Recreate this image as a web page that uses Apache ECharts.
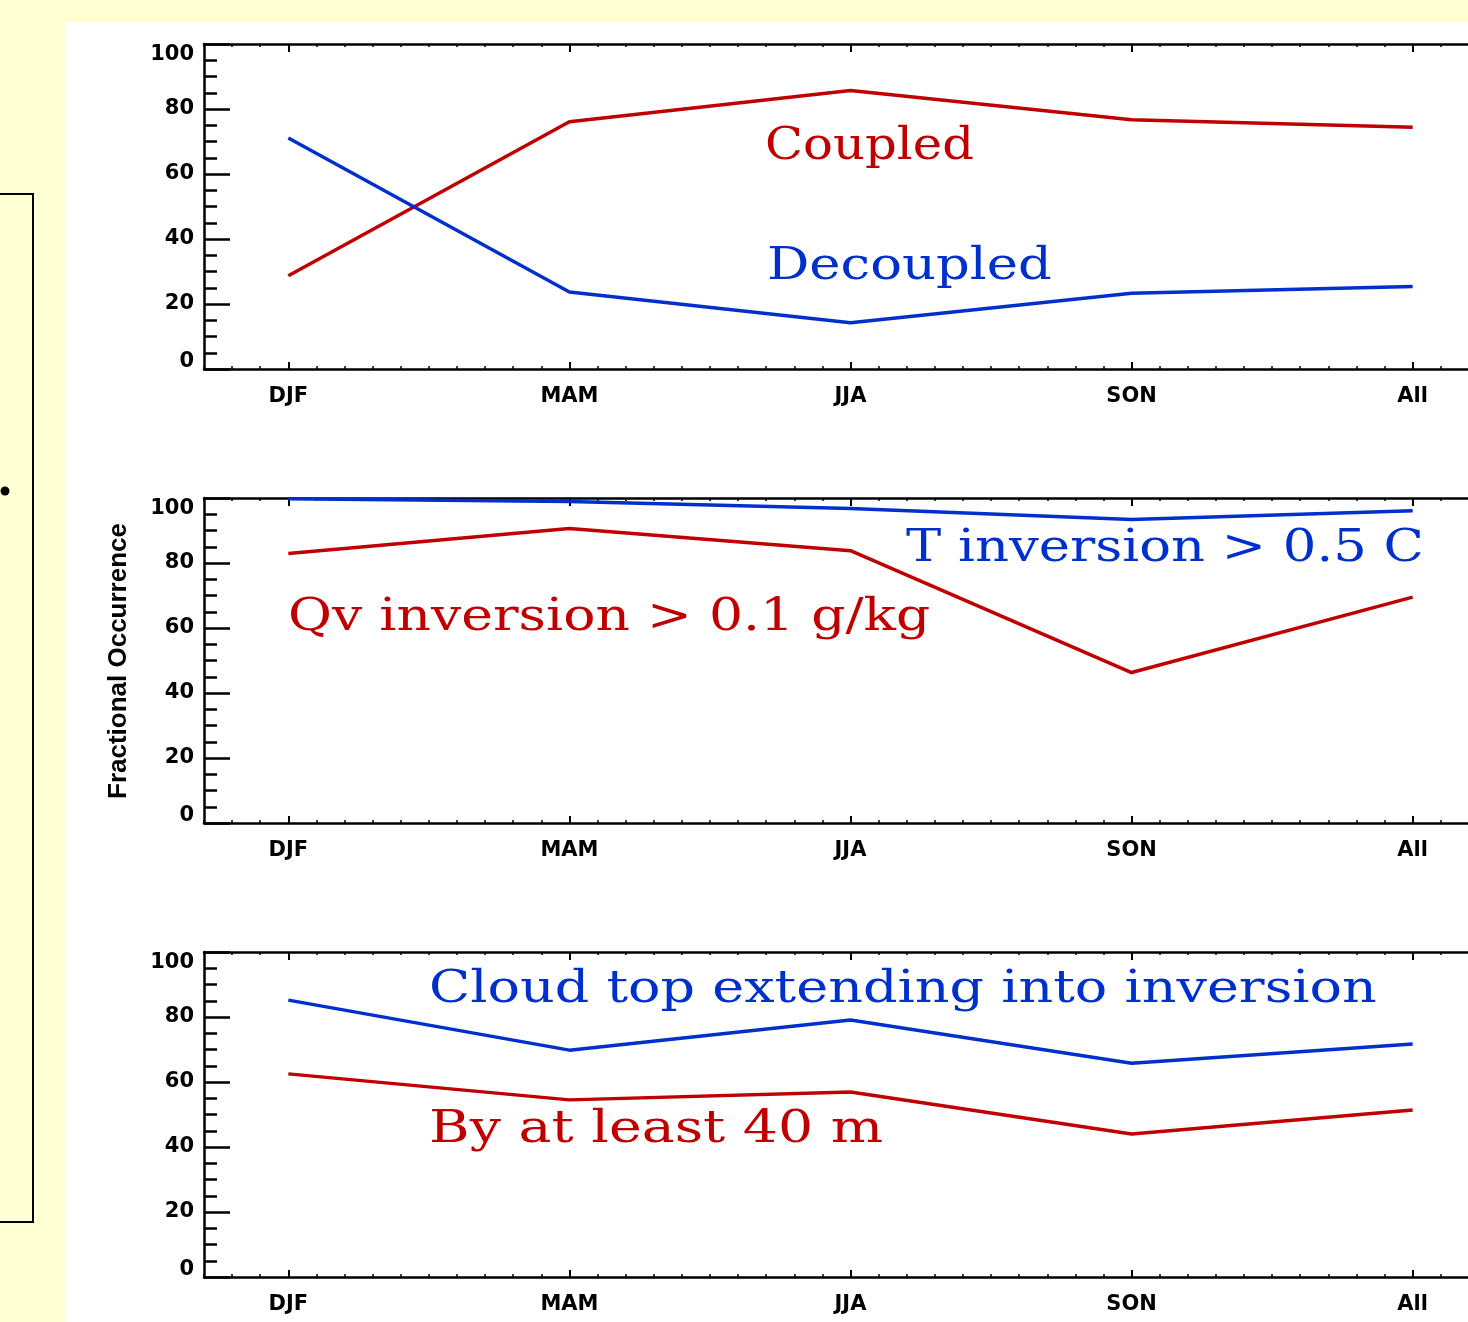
<!DOCTYPE html>
<html>
<head>
<meta charset="utf-8">
<script src="https://cdn.jsdelivr.net/npm/echarts@6/dist/echarts.min.js"></script>
<style>
html,body{margin:0;padding:0;background:#FFFFD4;overflow:hidden;}
#chart{width:1500px;height:1322px;}
</style>
</head>
<body>
<div id="chart"></div>
<script>
// ---- data ----
const categories = ['DJF', 'MAM', 'JJA', 'SON', 'All'];
const yTicks = [0, 20, 40, 60, 80, 100];

// panel 1
const coupled   = [28.7, 76.1, 85.7, 76.7, 74.4];
const decoupled = [71.1, 23.7, 14.2, 23.3, 25.4];
// panel 2
const tInversion  = [99.8, 98.9, 96.8, 93.4, 96.1];
const qvInversion = [82.9, 90.6, 83.8, 46.3, 69.5];
// panel 3
const cloudTopIntoInversion = [85.2, 69.8, 79.1, 65.8, 71.7];
const byAtLeast40m          = [62.5, 54.5, 56.9, 44.0, 51.4];

const RED = '#C00000';
const BLUE = '#0030CC';

const panelTops = [44, 498, 952];
const catIdx = categories.map((c, i) => i);

function pts(vals) { return vals.map((v, i) => [i, v]); }

const grids = panelTops.map(t => ({ left: 204, top: t, width: 1293, height: 325, containLabel: false }));

const tickFont = { fontFamily: 'DejaVu Sans', fontWeight: 'bold', fontSize: 21, color: '#000' };

const xAxes = [];
const yAxes = [];
panelTops.forEach((t, g) => {
  const base = {
    type: 'value', gridIndex: g, min: -0.3, max: 4.3,
    splitLine: { show: false }
  };
  // bottom: minor ticks + labels + line
  xAxes.push(Object.assign({}, base, {
    position: 'bottom', interval: 0.1,
    axisLine: { show: true, onZero: false, lineStyle: { color: '#000', width: 2.5 } },
    axisTick: { show: true, inside: true, length: 3, lineStyle: { color: '#000', width: 1.5 } },
    axisLabel: Object.assign({
      show: true, customValues: catIdx, margin: 17,
      formatter: v => categories[Math.round(v)]
    }, tickFont)
  }));
  // bottom: major ticks
  xAxes.push(Object.assign({}, base, {
    position: 'bottom',
    axisLine: { show: false, onZero: false },
    axisTick: { show: true, inside: true, length: 7, customValues: catIdx, lineStyle: { color: '#000', width: 2 } },
    axisLabel: { show: false }
  }));
  // top: minor ticks + line
  xAxes.push(Object.assign({}, base, {
    position: 'top', interval: 0.1,
    axisLine: { show: true, onZero: false, lineStyle: { color: '#000', width: 2.5 } },
    axisTick: { show: true, inside: true, length: 3, lineStyle: { color: '#000', width: 1.5 } },
    axisLabel: { show: false }
  }));
  // top: major ticks
  xAxes.push(Object.assign({}, base, {
    position: 'top',
    axisLine: { show: false, onZero: false },
    axisTick: { show: true, inside: true, length: 8, customValues: catIdx, lineStyle: { color: '#000', width: 2 } },
    axisLabel: { show: false }
  }));
  const yMin = yTicks[0], yMax = yTicks[yTicks.length - 1];
  yAxes.push({
    type: 'value', gridIndex: g, position: 'left',
    min: yMin, max: yMax, interval: yTicks[1] - yTicks[0],
    axisLine: { show: true, onZero: false, lineStyle: { color: '#000', width: 2.5 } },
    axisTick: { show: true, inside: true, length: 26, lineStyle: { color: '#000', width: 2.5 } },
    minorTick: { show: true, splitNumber: 4, length: 13, lineStyle: { color: '#000', width: 2.5 } },
    splitLine: { show: false }, minorSplitLine: { show: false },
    axisLabel: Object.assign({
      show: true, margin: 10,
      formatter: v => v === yMin ? '{lo|' + v + '}' : (v === yMax ? '{hi|' + v + '}' : String(v)),
      rich: {
        lo: Object.assign({ padding: [0, 0, 14, 0] }, tickFont),
        hi: Object.assign({ padding: [22, 0, 0, 0] }, tickFont)
      }
    }, tickFont)
  });
});

function line(name, vals, color, g) {
  return {
    name, type: 'line', data: pts(vals), xAxisIndex: g * 4, yAxisIndex: g,
    symbol: 'none', lineStyle: { color, width: 3.5 }, itemStyle: { color },
    animation: false, silent: true
  };
}

const series = [
  line('Coupled', coupled, RED, 0),
  line('Decoupled', decoupled, BLUE, 0),
  line('T inversion > 0.5 C', tInversion, BLUE, 1),
  line('Qv inversion > 0.1 g/kg', qvInversion, RED, 1),
  line('Cloud top extending into inversion', cloudTopIntoInversion, BLUE, 2),
  line('By at least 40 m', byAtLeast40m, RED, 2)
];

function label(text, x, y, color, sx) {
  return {
    type: 'text', x, y, scaleX: sx, z: 100,
    style: { text, fill: color, font: '44px "DejaVu Serif"', textAlign: 'left', textVerticalAlign: 'middle' }
  };
}

const graphic = [
  { type: 'rect', z: -100, shape: { x: 66, y: 22, width: 1450, height: 1300 }, style: { fill: '#FFFFFF' } },
  { type: 'rect', z: -50, shape: { x: -10, y: 194, width: 43, height: 1028 }, style: { fill: 'none', stroke: '#000', lineWidth: 2 } },
  { type: 'circle', z: -50, shape: { cx: 5, cy: 491, r: 4.5 }, style: { fill: '#000' } },
  label('Coupled', 765, 148, RED, 1.13),
  label('Decoupled', 767, 268, BLUE, 1.2),
  label('T inversion > 0.5 C', 906, 550, BLUE, 1.2),
  label('Qv inversion > 0.1 g/kg', 288, 619, RED, 1.218),
  label('Cloud top extending into inversion', 429, 991, BLUE, 1.226),
  label('By at least 40 m', 429, 1131, RED, 1.257),
  {
    type: 'text', x: 119, y: 661, rotation: Math.PI / 2, z: 100,
    style: { text: 'Fractional Occurrence', fill: '#000', font: 'bold 26px "Liberation Sans"', textAlign: 'center', textVerticalAlign: 'middle' }
  }
];

const chart = echarts.init(document.getElementById('chart'), null, { renderer: 'canvas' });
chart.setOption({
  backgroundColor: '#FFFFD4',
  animation: false,
  grid: grids,
  xAxis: xAxes,
  yAxis: yAxes,
  series,
  graphic
});
</script>
</body>
</html>
